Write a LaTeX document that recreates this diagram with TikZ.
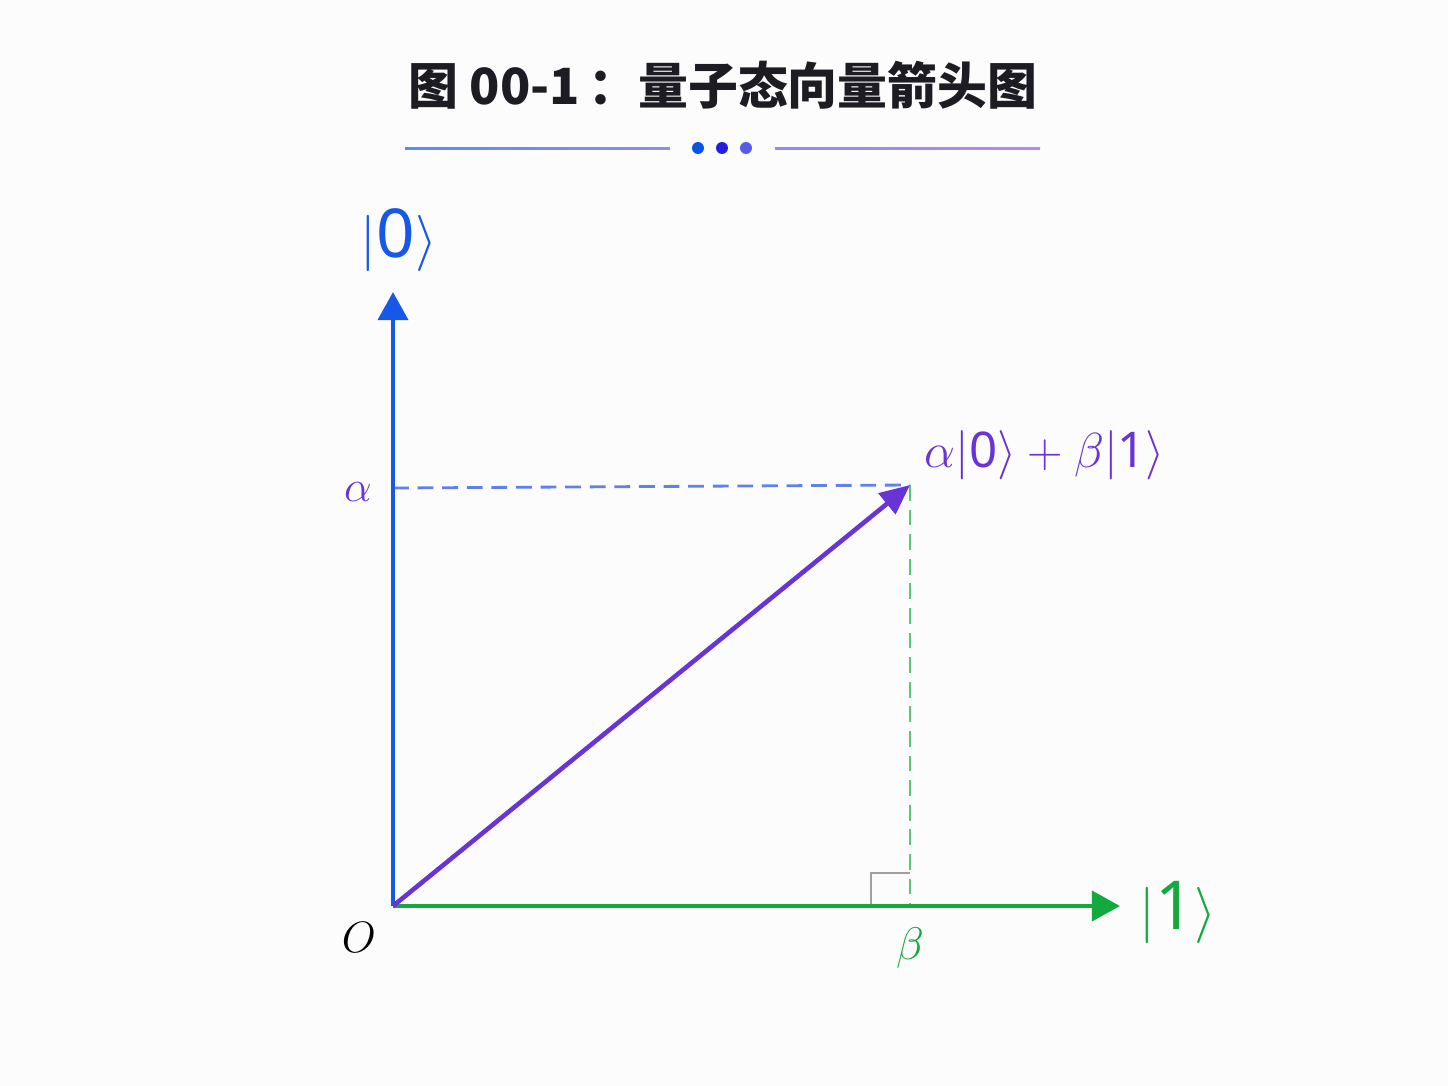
\RequirePackage{fix-cm}
\documentclass[tikz,border=0pt]{standalone}
\usepackage{fontspec}
\newfontfamily\cjk{Noto Sans CJK SC}
\newfontfamily\numfont{Noto Sans}
\usetikzlibrary{arrows.meta}

\definecolor{axisblue}{RGB}{22,88,232}
\definecolor{axisgreen}{RGB}{18,170,62}
\definecolor{vecpurple}{RGB}{104,52,214}
\definecolor{dashblue}{RGB}{96,128,236}
\definecolor{dashgreen}{RGB}{88,200,118}
\definecolor{markgray}{RGB}{160,160,160}
\definecolor{titlegray}{RGB}{28,28,34}
\definecolor{bgwhite}{RGB}{252,252,252}
\definecolor{dotA}{RGB}{8,84,232}
\definecolor{dotB}{RGB}{36,30,222}
\definecolor{dotC}{RGB}{84,92,232}
\definecolor{ruleA}{RGB}{92,140,240}
\definecolor{ruleB}{RGB}{145,140,236}
\definecolor{ruleC}{RGB}{182,138,236}

\newcommand\qket[2][1.2]{|\mbox{\scalebox{#1}{\numfont #2}}\rangle}

\begin{document}
\begin{tikzpicture}[x = 0.02cm, y = -0.02cm, > = {Triangle[length = 16pt, width = 17pt]}]
    \tikzset{
      axis/.style = {line width = 2.6pt},
      proj/.style = {line width = 1.6pt, dash pattern = on 9pt off 5pt},
      lbl/.style = {inner sep = 0pt, anchor = center},
      dot/.style = {circle, inner sep = 0pt, minimum size = 6.8pt},
    }

    \useasboundingbox[fill = bgwhite] (0, 0) rectangle (1448, 1086);

    % title and rule
    \node [lbl, text = titlegray, font = \cjk\bfseries\fontsize{28.4}{34}\selectfont] (title) at (723, 85) {图 00-1\,：量子态向量箭头图};
    \shade [left color = ruleA, right color = ruleB] (405, 147) rectangle (670, 149.5);
    \shade [left color = ruleB, right color = ruleC] (775, 147) rectangle (1040, 149.5);
    \node [dot, fill = dotA] (dot0) at (698, 148) {};
    \node [dot, fill = dotB] (dot1) at (722, 148) {};
    \node [dot, fill = dotC] (dot2) at (746, 148) {};

    % points
    \coordinate (O) at (393, 906);
    \coordinate (ytip) at (393, 292);
    \coordinate (xtip) at (1120, 906);
    \coordinate (P) at (910, 485);
    \coordinate (A) at (393, 488);
    \coordinate (B) at (910, 906);
    \coordinate (R) at (871, 873);

    % projections
    \draw [proj, dashblue] (A) -- (P);
    \draw [proj, dashgreen] (P) -- (B);
    \draw [markgray, line width = 1.5pt] (R |- B) -- (R) -- (R -| B);

    % axes and state vector
    \draw [axis, axisblue, ->] (O) -- (ytip);
    \draw [axis, axisgreen, ->] (O) -- (xtip);
    \draw [axis, vecpurple, -{Triangle[length = 17pt, width = 15pt]}] (O) -- (P);

    % labels
    \node [lbl, text = axisblue, font = \fontsize{32}{38}\selectfont] (ket0) at (399, 240) {$\qket{0}$};
    \node [lbl, text = axisgreen, font = \fontsize{32}{38}\selectfont] (ket1) at (1178, 912) {$\qket{1}$};
    \node [lbl, text = vecpurple, font = \fontsize{25}{30}\selectfont] (alpha) at (358, 492) {$\alpha$};
    \node [lbl, text = axisgreen, font = \fontsize{26}{30}\selectfont] (beta) at (910, 948) {$\beta$};
    \node [lbl, text = black, font = \fontsize{25}{30}\selectfont] (origin) at (359, 937) {$O$};
    \node [lbl, text = vecpurple, font = \fontsize{28}{32}\selectfont] (state) at (1045, 455) {$\alpha\qket[1.0]{0} + \beta\qket[1.0]{1}$};
\end{tikzpicture}
\end{document}
